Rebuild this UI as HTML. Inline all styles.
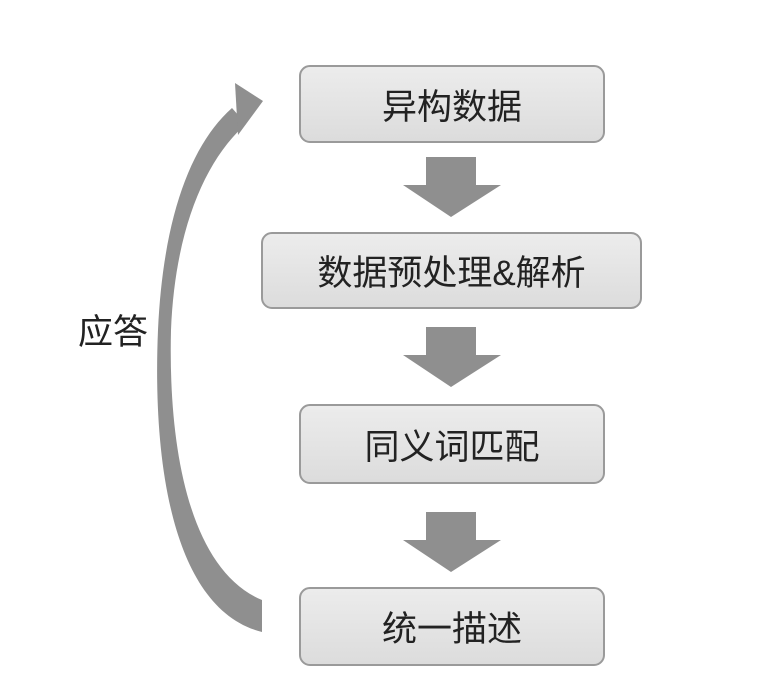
<!DOCTYPE html>
<html><head><meta charset="utf-8"><style>
body{margin:0;background:#fff;width:766px;height:694px;position:relative;overflow:hidden;font-family:"Liberation Sans","Noto Sans CJK SC",sans-serif;}
.b{position:absolute;box-sizing:border-box;border:2px solid #9a9a9a;border-radius:11px;background:linear-gradient(#ececec,#dcdcdc);display:flex;align-items:center;justify-content:center;font-size:35px;color:#222;}
</style></head><body>
<div class="b" style="left:299px;top:65px;width:306px;height:78px;">异构数据</div>
<div class="b" style="left:261px;top:232px;width:381px;height:77px;">数据预处理&amp;解析</div>
<div class="b" style="left:299px;top:404px;width:306px;height:80px;">同义词匹配</div>
<div class="b" style="left:299px;top:587px;width:306px;height:79px;">统一描述</div>
<div style="position:absolute;left:78px;top:304px;font-size:35px;color:#222;">应答</div>
<svg width="766" height="694" style="position:absolute;left:0;top:0">
<g fill="#8f8f8f">
<polygon points="426,157 476,157 476,185 501,185 451,217 403,185 426,185"/>
<polygon points="426,327 476,327 476,355 501,355 451,387 403,355 426,355"/>
<polygon points="426,512 476,512 476,540 501,540 451,572 403,540 426,540"/>
<path d="M262,632 C175,610 152,470 158,330 C163,220 190,145 232,108 L246,124 C205,160 175,230 171,330 C168,450 190,570 262,600 Z"/>
<polygon points="235,83 263,101 238,135"/>
</g>
</svg>
</body></html>
